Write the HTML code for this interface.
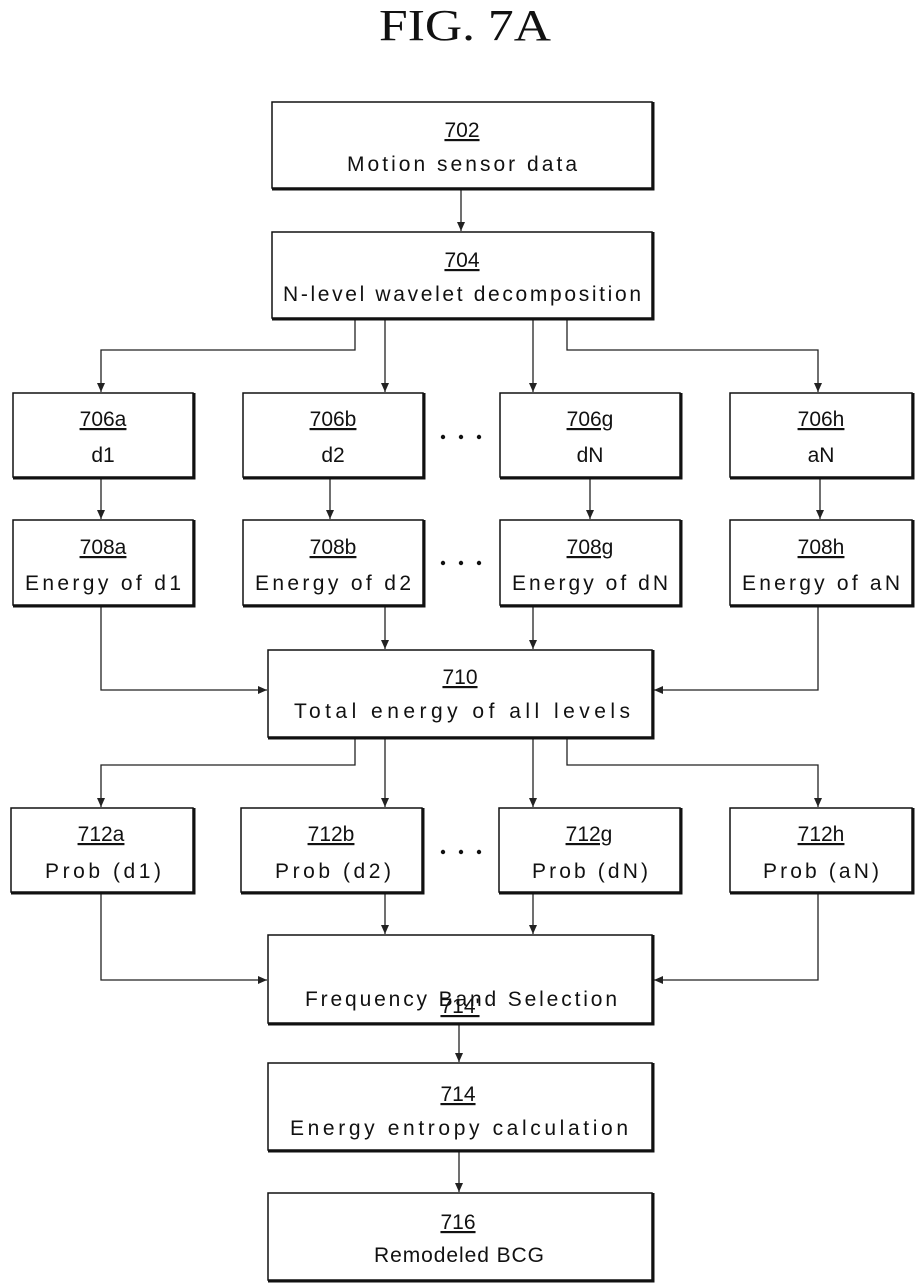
<!DOCTYPE html>
<html><head><meta charset="utf-8"><style>
html,body{margin:0;padding:0;background:#fff}
svg{display:block}
text{font-family:"Liberation Sans",sans-serif;fill:#111}
</style></head><body>
<svg width="921" height="1287" viewBox="0 0 921 1287" xmlns="http://www.w3.org/2000/svg">
<defs>
<marker id="ar" markerWidth="10" markerHeight="10" refX="9" refY="5" orient="auto" markerUnits="userSpaceOnUse">
<path d="M0,1 L9,5 L0,9 z" fill="#222"/>
</marker>
<g id="x"></g>
</defs>
<text x="465" y="40" text-anchor="middle" font-family="Liberation Serif" style="font-family:'Liberation Serif',serif" font-size="44" textLength="172" lengthAdjust="spacingAndGlyphs">FIG. 7A</text>

<g fill="none" stroke="#222" stroke-width="1.3">
<!-- 702 -> 704 -->
<line x1="461" y1="190" x2="461" y2="231" marker-end="url(#ar)"/>
<!-- 704 -> 706 -->
<polyline points="355,319 355,350 101,350 101,392" marker-end="url(#ar)"/>
<line x1="385" y1="319" x2="385" y2="392" marker-end="url(#ar)"/>
<line x1="533" y1="319" x2="533" y2="392" marker-end="url(#ar)"/>
<polyline points="567,319 567,350 818,350 818,392" marker-end="url(#ar)"/>
<!-- 706 -> 708 -->
<line x1="101" y1="479" x2="101" y2="519" marker-end="url(#ar)"/>
<line x1="330" y1="479" x2="330" y2="519" marker-end="url(#ar)"/>
<line x1="590" y1="479" x2="590" y2="519" marker-end="url(#ar)"/>
<line x1="820" y1="479" x2="820" y2="519" marker-end="url(#ar)"/>
<!-- 708 -> 710 -->
<polyline points="101,607 101,690 267,690" marker-end="url(#ar)"/>
<line x1="385" y1="607" x2="385" y2="649" marker-end="url(#ar)"/>
<line x1="533" y1="607" x2="533" y2="649" marker-end="url(#ar)"/>
<polyline points="818,607 818,690 654,690" marker-end="url(#ar)"/>
<!-- 710 -> 712 -->
<polyline points="355,739 355,765 101,765 101,807" marker-end="url(#ar)"/>
<line x1="385" y1="739" x2="385" y2="807" marker-end="url(#ar)"/>
<line x1="533" y1="739" x2="533" y2="807" marker-end="url(#ar)"/>
<polyline points="567,739 567,765 818,765 818,807" marker-end="url(#ar)"/>
<!-- 712 -> 714' -->
<polyline points="101,894 101,980 267,980" marker-end="url(#ar)"/>
<line x1="385" y1="894" x2="385" y2="934" marker-end="url(#ar)"/>
<line x1="533" y1="894" x2="533" y2="934" marker-end="url(#ar)"/>
<polyline points="818,894 818,980 654,980" marker-end="url(#ar)"/>
<!-- 714' -> 714 -> 716 -->
<line x1="459" y1="1025" x2="459" y2="1062" marker-end="url(#ar)"/>
<line x1="459" y1="1152" x2="459" y2="1192" marker-end="url(#ar)"/>
</g>

<g fill="#fff" stroke="#111">
<!-- boxes: thin rect + thicker bottom/right -->
<g stroke-width="1.5">
<rect x="272" y="102" width="380" height="86"/>
<rect x="272" y="232" width="380" height="86"/>
<rect x="13" y="393" width="180" height="84"/>
<rect x="243" y="393" width="180" height="84"/>
<rect x="500" y="393" width="180" height="84"/>
<rect x="730" y="393" width="182" height="84"/>
<rect x="13" y="520" width="180" height="85"/>
<rect x="243" y="520" width="180" height="85"/>
<rect x="500" y="520" width="180" height="85"/>
<rect x="730" y="520" width="182" height="85"/>
<rect x="268" y="650" width="384" height="87"/>
<rect x="11" y="808" width="182" height="84"/>
<rect x="241" y="808" width="181" height="84"/>
<rect x="499" y="808" width="181" height="84"/>
<rect x="730" y="808" width="182" height="84"/>
<rect x="268" y="935" width="384" height="88"/>
<rect x="268" y="1063" width="384" height="87"/>
<rect x="268" y="1193" width="384" height="87"/>
</g>
</g>
<g fill="none" stroke="#111" stroke-width="3">
<polyline points="272,189 653,189 653,102"/>
<polyline points="272,319 653,319 653,232"/>
<polyline points="13,478 194,478 194,393"/>
<polyline points="243,478 424,478 424,393"/>
<polyline points="500,478 681,478 681,393"/>
<polyline points="730,478 913,478 913,393"/>
<polyline points="13,606 194,606 194,520"/>
<polyline points="243,606 424,606 424,520"/>
<polyline points="500,606 681,606 681,520"/>
<polyline points="730,606 913,606 913,520"/>
<polyline points="268,738 653,738 653,650"/>
<polyline points="11,893 194,893 194,808"/>
<polyline points="241,893 423,893 423,808"/>
<polyline points="499,893 681,893 681,808"/>
<polyline points="730,893 913,893 913,808"/>
<polyline points="268,1024 653,1024 653,935"/>
<polyline points="268,1151 653,1151 653,1063"/>
<polyline points="268,1281 653,1281 653,1193"/>
</g>

<g font-size="21" text-anchor="middle" text-decoration="underline">
<text x="462" y="137" text-decoration="underline">702</text>
<text x="462" y="267" text-decoration="underline">704</text>
<text x="103" y="426" text-decoration="underline">706a</text>
<text x="333" y="426" text-decoration="underline">706b</text>
<text x="590" y="426" text-decoration="underline">706g</text>
<text x="821" y="426" text-decoration="underline">706h</text>
<text x="103" y="554" text-decoration="underline">708a</text>
<text x="333" y="554" text-decoration="underline">708b</text>
<text x="590" y="554" text-decoration="underline">708g</text>
<text x="821" y="554" text-decoration="underline">708h</text>
<text x="460" y="684" text-decoration="underline">710</text>
<text x="101" y="841" text-decoration="underline">712a</text>
<text x="331" y="841" text-decoration="underline">712b</text>
<text x="589" y="841" text-decoration="underline">712g</text>
<text x="821" y="841" text-decoration="underline">712h</text>
<text x="460" y="1013" text-decoration="underline">714'</text>
<text x="458" y="1101" text-decoration="underline">714</text>
<text x="458" y="1229" text-decoration="underline">716</text>
</g>
<g font-size="21" text-anchor="middle">
<text x="462" y="171" textLength="230" lengthAdjust="spacing">Motion sensor data</text>
<text x="462" y="301" textLength="358" lengthAdjust="spacing">N-level wavelet decomposition</text>
<text x="103" y="462">d1</text>
<text x="333" y="462">d2</text>
<text x="590" y="462">dN</text>
<text x="821" y="462">aN</text>
<text x="103" y="590" textLength="156" lengthAdjust="spacing">Energy of d1</text>
<text x="333" y="590" textLength="156" lengthAdjust="spacing">Energy of d2</text>
<text x="590" y="590" textLength="156" lengthAdjust="spacing">Energy of dN</text>
<text x="821" y="590" textLength="158" lengthAdjust="spacing">Energy of aN</text>
<text x="462" y="718" textLength="336" lengthAdjust="spacing">Total energy of all levels</text>
<text x="103" y="878" textLength="116" lengthAdjust="spacing">Prob (d1)</text>
<text x="333" y="878" textLength="116" lengthAdjust="spacing">Prob (d2)</text>
<text x="590" y="878" textLength="116" lengthAdjust="spacing">Prob (dN)</text>
<text x="821" y="878" textLength="116" lengthAdjust="spacing">Prob (aN)</text>
<text x="461" y="1006" textLength="312" lengthAdjust="spacing">Frequency Band Selection</text>
<text x="459" y="1135" textLength="338" lengthAdjust="spacing">Energy entropy calculation</text>
<text x="459" y="1262" textLength="170" lengthAdjust="spacing">Remodeled BCG</text>
</g>
<g fill="#111">
<circle cx="443" cy="437" r="2.2"/><circle cx="461" cy="437" r="2.2"/><circle cx="479" cy="437" r="2.2"/>
<circle cx="443" cy="563" r="2.2"/><circle cx="461" cy="563" r="2.2"/><circle cx="479" cy="563" r="2.2"/>
<circle cx="443" cy="852" r="2.2"/><circle cx="461" cy="852" r="2.2"/><circle cx="479" cy="852" r="2.2"/>
</g>
</svg>
</body></html>
